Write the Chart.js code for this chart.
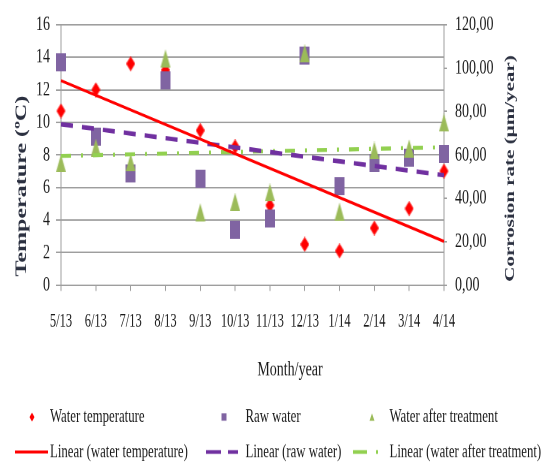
<!DOCTYPE html>
<html>
<head>
<meta charset="utf-8">
<script src="https://cdn.jsdelivr.net/npm/chart.js@4.4.1/dist/chart.umd.min.js"></script>
<style>
html,body{margin:0;padding:0;background:#fff;overflow:hidden;width:542px;height:467px;}
#wrap{position:absolute;left:0;top:0;width:542px;height:311px;transform:scale(1,1.5016);transform-origin:0 0;}
</style>
</head>
<body>
<div id="wrap"><canvas id="c" width="542" height="311"></canvas></div>
<script>
// ---- data ----
const months = ['5/13','6/13','7/13','8/13','9/13','10/13','11/13','12/13','1/14','2/14','3/14','4/14'];
const waterTemperature = [10.7, 12.0, 13.6, 13.2, 9.5, 8.5, 4.9, 2.5, 2.1, 3.5, 4.7, 7.0];      // ºC, left axis
const rawWater = [102.7, 68.4, 51.3, 94.2, 49.1, 25.6, 30.5, 105.7, 45.7, 56.1, 58.8, 60.3];    // µm/year, right axis
const waterAfterTreatment = [56.1, 63.3, 56.5, 104.4, 33.5, 38.3, 42.7, 106.8, 33.8, 62.0, 63.0, 74.8];
// trendline end values (first month, last month)
const trendWaterTemperature = [12.56, 2.68];
const trendRawWater = [74.1, 50.6];
const trendAfterTreatment = [59.5, 63.5];
const leftTicks = {min: 0, max: 16, step: 2};
const rightTicks = {min: 0, max: 120, step: 20};
const seriesNames = ['Water temperature', 'Raw water', 'Water after treatment',
  'Linear (water temperature)', 'Linear (raw water)', 'Linear (water after treatment)'];
const xTitle = 'Month/year';
const leftTitle = 'Temperature (ºC)';
const rightTitle = 'Corrosion rate (µm/year)';

// ---- styles ----
const SERIF = '"Liberation Serif", "Times New Roman", serif';
const GRID = '#9e9e9e';
const TXT = '#1a1a1a';
const TITLE = '#2b3040';
const RED = '#FF0000', PURPLE = '#8064A2', GREEN = '#9BBB59', PURPLE_T = '#7030A0', GREEN_T = '#92D050';

function markerCanvas(kind, w, h, color) {
  const c = document.createElement('canvas'); c.width = w; c.height = h;
  const g = c.getContext('2d'); g.fillStyle = color; g.beginPath();
  if (kind === 'diamond') { g.moveTo(w/2,0); g.lineTo(w,h/2); g.lineTo(w/2,h); g.lineTo(0,h/2); }
  else if (kind === 'triangle') { g.moveTo(w/2,0); g.lineTo(w,h); g.lineTo(0,h); }
  else { g.rect(0,0,w,h); }
  g.closePath(); g.fill(); return c;
}
function trend(ends) { return months.map((m,i) => i === 0 ? ends[0] : (i === months.length-1 ? ends[1] : null)); }

function shape(ctx, kind, x, y, w, h, color) {
  ctx.fillStyle = color; ctx.beginPath();
  if (kind === 'diamond') { ctx.moveTo(x, y-h/2); ctx.lineTo(x+w/2, y); ctx.lineTo(x, y+h/2); ctx.lineTo(x-w/2, y); }
  else if (kind === 'triangle') { ctx.moveTo(x, y-h/2); ctx.lineTo(x+w/2, y+h/2); ctx.lineTo(x-w/2, y+h/2); }
  else { ctx.rect(x-w/2, y-h/2, w, h); }
  ctx.closePath(); ctx.fill();
}

const decor = {
  id: 'decor',
  afterDraw(chart) {
    const ctx = chart.ctx;
    ctx.save();
    ctx.textBaseline = 'middle';
    // x title
    ctx.fillStyle = TXT; ctx.textAlign = 'center';
    ctx.font = '14px ' + SERIF;
    ctx.fillText(xTitle, 290, 246.4);
    // left title
    ctx.save(); ctx.translate(22, 123.9); ctx.rotate(-Math.PI/2);
    ctx.font = 'bold 16px ' + SERIF; ctx.fillStyle = TITLE; ctx.fillText(leftTitle, 0, 0); ctx.restore();
    // right title
    ctx.save(); ctx.translate(510.5, 112.2); ctx.rotate(-Math.PI/2);
    ctx.font = 'bold 14px ' + SERIF; ctx.fillStyle = TITLE; ctx.fillText(rightTitle, 0, 0); ctx.restore();
    // legend
    const r1 = 277.7, r2 = 301;
    const cols = [{m: 32, l0: 15, l1: 48, t: 50}, {m: 224, l0: 206, l1: 238, t: 245.5}, {m: 372, l0: 353, l1: 379, t: 389.5}];
    ctx.font = '12.8px ' + SERIF; ctx.textAlign = 'left'; ctx.fillStyle = TXT;
    shape(ctx, 'diamond', cols[0].m, r1, 5, 6, RED);
    shape(ctx, 'rect', cols[1].m, r1, 5, 5, PURPLE);
    shape(ctx, 'triangle', cols[2].m, r1, 5, 5, GREEN);
    ctx.fillStyle = TXT;
    for (let i = 0; i < 3; i++) ctx.fillText(seriesNames[i], cols[i].t, r1);
    const lines = [{c: RED, w: 2, d: []}, {c: PURPLE_T, w: 2.6, d: [15, 7]}, {c: GREEN_T, w: 2.4, d: [14, 9, 2, 9]}];
    for (let i = 0; i < 3; i++) {
      ctx.strokeStyle = lines[i].c; ctx.lineWidth = lines[i].w; ctx.setLineDash(lines[i].d);
      ctx.beginPath(); ctx.moveTo(cols[i].l0, r2); ctx.lineTo(cols[i].l1, r2); ctx.stroke();
    }
    ctx.setLineDash([]);
    ctx.fillStyle = TXT;
    for (let i = 0; i < 3; i++) ctx.fillText(seriesNames[i+3], cols[i].t, r2);
    ctx.restore();
  }
};

new Chart(document.getElementById('c'), {
  type: 'line',
  data: {
    labels: months,
    datasets: [
      {label: seriesNames[0], data: waterTemperature, yAxisID: 'y', showLine: false,
       pointStyle: markerCanvas('diamond', 9, 10, RED), pointRadius: 5, order: 6},
      {label: seriesNames[1], data: rawWater, yAxisID: 'y1', showLine: false,
       pointStyle: markerCanvas('rect', 10, 12, PURPLE), pointRadius: 6, order: 5},
      {label: seriesNames[2], data: waterAfterTreatment, yAxisID: 'y1', showLine: false,
       pointStyle: markerCanvas('triangle', 10, 12, GREEN), pointRadius: 6, order: 4},
      {label: seriesNames[3], data: trend(trendWaterTemperature), yAxisID: 'y', spanGaps: true,
       borderColor: RED, borderWidth: 2, pointRadius: 0, order: 1},
      {label: seriesNames[4], data: trend(trendRawWater), yAxisID: 'y1', spanGaps: true,
       borderColor: PURPLE_T, borderWidth: 3, borderDash: [12, 9], pointRadius: 0, order: 2},
      {label: seriesNames[5], data: trend(trendAfterTreatment), yAxisID: 'y1', spanGaps: true,
       borderColor: GREEN_T, borderWidth: 2.7, borderDash: [10, 10, 2, 10], pointRadius: 0, order: 3}
    ]
  },
  options: {
    responsive: false,
    animation: false,
    devicePixelRatio: 2,
    layout: {padding: {top: 10.66, left: 0, right: 0, bottom: 0}},
    plugins: {legend: {display: false}, tooltip: {enabled: false}},
    events: [],
    scales: {
      x: {
        type: 'category', offset: false,
        grid: {drawOnChartArea: false, drawTicks: true, tickLength: 4, color: GRID},
        border: {color: GRID},
        ticks: {font: {family: SERIF, size: 12.5}, color: TXT, padding: 13, maxRotation: 0, autoSkip: false},
        afterFit(s) { s.height = 121.2; }
      },
      y: {
        position: 'left', min: leftTicks.min, max: leftTicks.max,
        ticks: {stepSize: leftTicks.step, font: {family: SERIF, size: 14}, color: TXT, padding: 6},
        grid: {color: GRID, tickLength: 5},
        border: {color: GRID},
        afterFit(s) { s.width = 61; }
      },
      y1: {
        position: 'right', min: rightTicks.min, max: rightTicks.max,
        ticks: {stepSize: rightTicks.step, font: {family: SERIF, size: 14}, color: TXT, padding: 8,
                callback: v => Number(v).toFixed(2).replace('.', ',')},
        grid: {drawOnChartArea: false, tickLength: 3, color: GRID},
        border: {color: GRID},
        afterFit(s) { s.width = 98; }
      }
    }
  },
  plugins: [decor]
});
</script>
</body>
</html>
